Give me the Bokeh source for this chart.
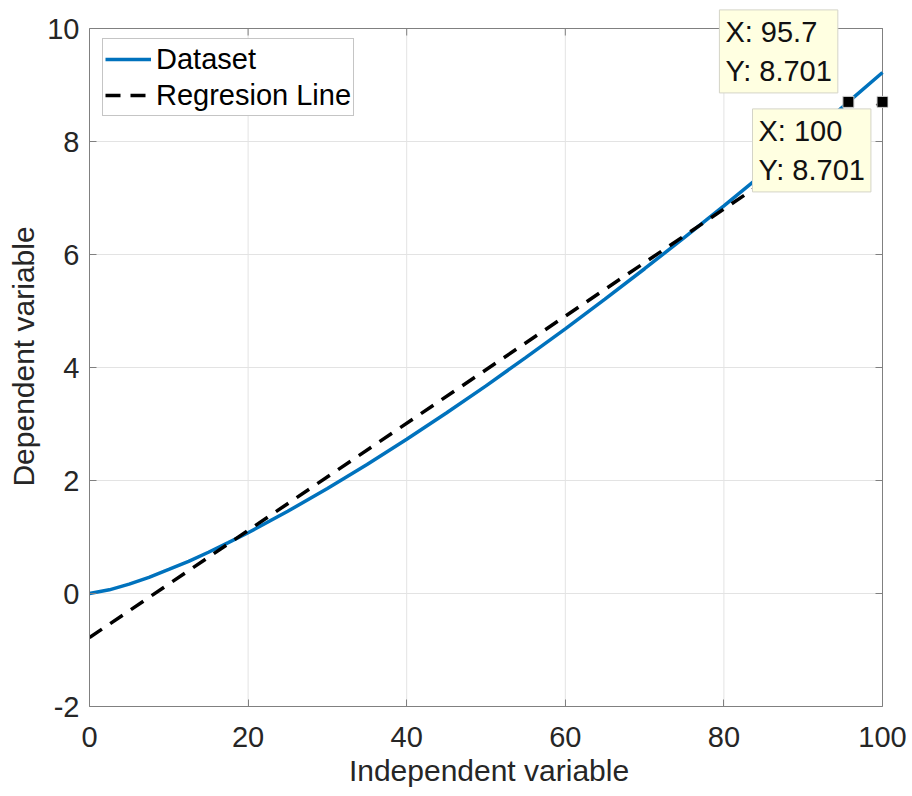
from bokeh.plotting import figure
from bokeh.models import Legend, LegendItem, Label, Range1d, FixedTicker
from bokeh.embed import file_html
from bokeh.resources import INLINE

# Measured dataset (independent vs dependent variable)
x_data = [0, 2.5, 5, 7.5, 10, 12.5, 15, 17.5, 20, 25, 30, 35, 40, 45, 50, 55, 60,
          65, 70, 75, 80, 85, 90, 95, 95.7, 100]
y_data = [0.0, 0.065, 0.165, 0.285, 0.425, 0.570, 0.730, 0.900, 1.075, 1.455, 1.860,
          2.285, 2.730, 3.195, 3.675, 4.175, 4.685, 5.210, 5.748, 6.300, 6.862, 7.436,
          8.020, 8.615, 8.701, 9.222]

# Least-squares regression line end points
x_fit = [0, 100]
y_fit = [-0.78, 8.701]

# Data tips
tip_x = [95.7, 100]
tip_y = [8.701, 8.701]

x_ticks = [0, 20, 40, 60, 80, 100]
y_ticks = [-2, 0, 2, 4, 6, 8, 10]
X_LIM = (0, 100)
Y_LIM = (-2, 10)

FONT = "Liberation Sans"
AXIS_GRAY = "#808080"
GRID_GRAY = "#e3e3e3"
TEXT_COLOR = "#262626"
BLUE = "#0072BD"

W, H = 912, 796
# axes box in canvas pixels
BOX_L, BOX_R, BOX_T, BOX_B = 89, 882, 28, 706
BOX_W, BOX_H = BOX_R - BOX_L, BOX_B - BOX_T
# extra drawing room above / right of the box (data tips sit partly outside it)
EXTRA_TOP, EXTRA_RIGHT = 22, 6
ux = (X_LIM[1] - X_LIM[0]) / BOX_W   # data units per pixel
uy = (Y_LIM[1] - Y_LIM[0]) / BOX_H

xr = Range1d(X_LIM[0], X_LIM[1] + EXTRA_RIGHT * ux)
yr = Range1d(Y_LIM[0], Y_LIM[1] + EXTRA_TOP * uy)

p = figure(width=W, height=H, output_backend="svg", toolbar_location=None,
           x_range=xr, y_range=yr,
           min_border_left=BOX_L, min_border_right=W - BOX_R - EXTRA_RIGHT,
           min_border_top=BOX_T - EXTRA_TOP, min_border_bottom=H - BOX_B,
           x_axis_label="Independent variable", y_axis_label="Dependent variable")
p.background_fill_color = "white"
p.border_fill_color = "white"
p.outline_line_color = None
p.xgrid.visible = False
p.ygrid.visible = False

p.xaxis.ticker = FixedTicker(ticks=x_ticks)
p.yaxis.ticker = FixedTicker(ticks=y_ticks)
p.xaxis.bounds = X_LIM
p.yaxis.bounds = Y_LIM
# plain hyphen for negative tick labels
p.yaxis.major_label_overrides = {t: f"{t:g}" for t in y_ticks}
for ax in (p.xaxis[0], p.yaxis[0]):
    ax.axis_line_color = AXIS_GRAY
    ax.major_tick_line_color = AXIS_GRAY
    ax.major_tick_in = 7
    ax.major_tick_out = 0
    ax.minor_tick_line_color = None
    ax.major_label_text_font = FONT
    ax.major_label_text_font_size = "29px"
    ax.major_label_text_color = TEXT_COLOR
    ax.axis_label_text_font = FONT
    ax.axis_label_text_font_size = "30px"
    ax.axis_label_text_font_style = "normal"
    ax.axis_label_text_color = TEXT_COLOR
p.xaxis.major_label_standoff = 20
p.xaxis.axis_label_standoff = 4
p.yaxis.major_label_standoff = 10
p.yaxis.axis_label_standoff = 4

# Grid lines limited to the axes box
nx, ny = len(x_ticks), len(y_ticks)
p.segment(x0=x_ticks, y0=[Y_LIM[0]] * nx, x1=x_ticks, y1=[Y_LIM[1]] * nx,
          line_color=GRID_GRAY, line_width=1)
p.segment(x0=[X_LIM[0]] * ny, y0=y_ticks, x1=[X_LIM[1]] * ny, y1=y_ticks,
          line_color=GRID_GRAY, line_width=1)

# Top and right edges of the box, with inward ticks
TICK = 7
p.line([X_LIM[0], X_LIM[1], X_LIM[1]], [Y_LIM[1], Y_LIM[1], Y_LIM[0]],
       line_color=AXIS_GRAY, line_width=1)
p.segment(x0=x_ticks, y0=[Y_LIM[1]] * nx, x1=x_ticks, y1=[Y_LIM[1] - TICK * uy] * nx,
          line_color=AXIS_GRAY, line_width=1)
p.segment(x0=[X_LIM[1]] * ny, y0=y_ticks, x1=[X_LIM[1] - TICK * ux] * ny, y1=y_ticks,
          line_color=AXIS_GRAY, line_width=1)

r_data = p.line(x_data, y_data, line_color=BLUE, line_width=3.5)
r_fit = p.line(x_fit, y_fit, line_color="black", line_width=3.5, line_dash="15 10")

# Legend box: top-left corner at canvas (102, 40); the tuple is its bottom-left
LEG_ROW, LEG_PAD = 36, 2
LEG_H = 2 * LEG_ROW + 2 * LEG_PAD
legend = Legend(items=[LegendItem(label="Dataset", renderers=[r_data]),
                       LegendItem(label="Regresion Line", renderers=[r_fit])],
                location=(102 - BOX_L, BOX_B - 40 - LEG_H), padding=LEG_PAD, spacing=0,
                glyph_width=46, glyph_height=LEG_ROW, label_height=LEG_ROW, label_standoff=5,
                label_text_font=FONT, label_text_font_size="29px", label_text_color="black",
                border_line_color="#8c8c8c", border_line_width=1,
                background_fill_color="white", background_fill_alpha=1.0)
p.add_layout(legend)

# Data tip markers
p.scatter(tip_x, tip_y, marker="square", size=11, fill_color="black",
          line_color="#cfcfcf", line_width=1)

# Data tip boxes (offset in screen pixels from the tip point)
tip_dx = [-129, -130]
tip_dy = [92, -7]
for tx, ty, dx, dy in zip(tip_x, tip_y, tip_dx, tip_dy):
    p.add_layout(Label(x=tx, y=ty, x_offset=dx, y_offset=dy,
                       text=f"X: {tx:g}\nY: {ty:.3f}", anchor="top_left",
                       text_align="left", text_baseline="top",
                       text_font=FONT, text_font_size="29px", text_color="#111111",
                       text_line_height=1.22, padding=6,
                       background_fill_color="#FFFFE1", border_line_color="#d4d4c8",
                       border_line_width=1))

open("out.html", "w").write(file_html(p, INLINE))
